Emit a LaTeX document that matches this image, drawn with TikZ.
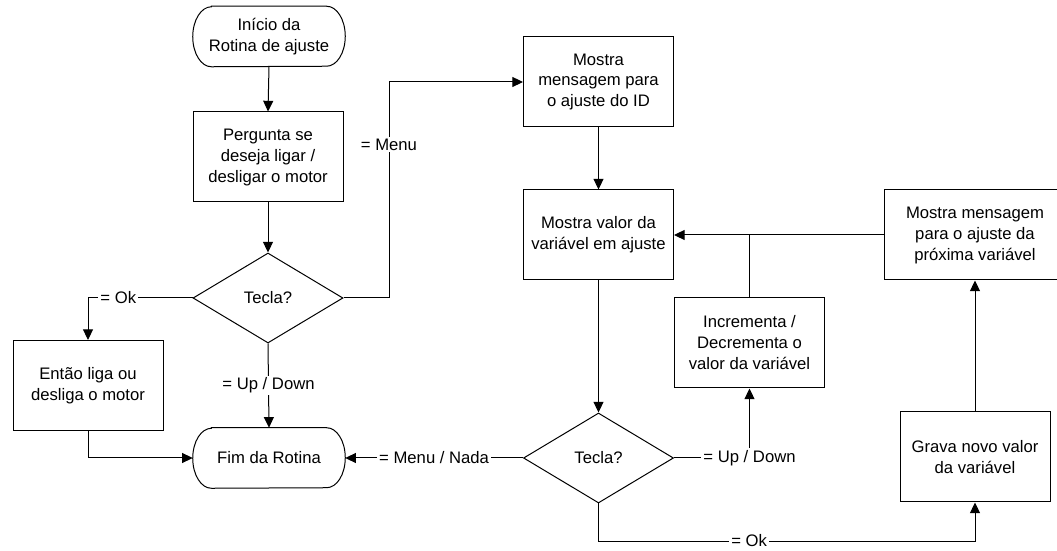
\documentclass[tikz,border=0pt]{standalone}
\usepackage{fontspec}
\setmainfont{Liberation Sans}
\usetikzlibrary{arrows.meta,shapes.geometric}

% Terminal outline: straight top and bottom, elliptical ends
\newcommand{\drawterminal}[1]{%
  \draw[line width=0.75pt]
    ([xshift=14pt]#1.north west) -- ([xshift=-14pt]#1.north east)
    arc[start angle=90,end angle=-90,x radius=14pt,y radius=22.5pt]
    -- ([xshift=14pt]#1.south west)
    arc[start angle=270,end angle=90,x radius=14pt,y radius=22.5pt]
    -- cycle;}

\begin{document}
\begin{tikzpicture}[x=0.75pt,y=0.75pt,
  every node/.style={font=\fontsize{12.5}{15.75}\selectfont, align=center},
  box/.style={draw, line width=0.75pt, minimum width=112.5pt, minimum height=67.5pt, inner sep=0pt},
  term/.style={minimum width=114pt, minimum height=45pt, inner sep=0pt},
  decision/.style={diamond, draw, line width=0.75pt, aspect=1.667,
    minimum width=112.5pt, minimum height=67.5pt, inner sep=0pt},
  flow/.style={line width=0.75pt, -{Triangle[length=8pt,width=7.5pt]}},
  link/.style={line width=0.75pt},
  lbl/.style={fill=white, inner sep=1.5pt},
]
\useasboundingbox (0,0) rectangle (1057,550);
\clip (0,0) rectangle (1057,550);

% Nodes
\node[term] (start) at (269,513.5) {Início da\\Rotina de ajuste};
\drawterminal{start}
\node[box] (perg) at (268,393) {Pergunta se\\deseja ligar /\\desligar o motor};
\node[decision] (d1) at (268,252) {Tecla?};
\node[box] (entao) at (88,164.5) {Então liga ou\\desliga o motor};
\node[term] (fim) at (269,92) {Fim da Rotina};
\drawterminal{fim}

\node[box] (msgid) at (598.5,468) {Mostra\\mensagem para\\o ajuste do ID};
\node[box] (valor) at (598.5,315) {Mostra valor da\\variável em ajuste};
\node[box] (inc) at (749.5,207) {Incrementa /\\Decrementa o\\valor da variável};
\node[decision] (d2) at (598.5,92) {Tecla?};
\node[box] (grava) at (975,93) {Grava novo valor\\da variável};
\node[box, minimum width=136.5pt] (prox) at (975,315) {Mostra mensagem\\para o ajuste da\\próxima variável};

% Connectors
\draw[flow] (start.south) -- (perg.north);
\draw[flow] (perg.south) -- (d1.north);
\draw[flow] (d1.east) -- (389,252) -- node[lbl,pos=0.71]{= Menu} (389,468) -- (msgid.west);
\draw[flow] (d1.west) -- node[lbl,pos=0.71]{= Ok} (88,252) -- (entao.north);
\draw[flow] (d1.south) -- node[lbl,pos=0.5]{= Up / Down} (fim.north);
\draw[flow] (entao.south) |- (fim.west);

\draw[flow] (msgid.south) -- (valor.north);
\draw[flow] (valor.south) -- (d2.north);
\draw[flow] (d2.west) -- node[lbl,pos=0.5]{= Menu / Nada} (fim.east);
\draw[flow] (d2.east) -| node[lbl]{= Up / Down} (inc.south);
\draw[link] (inc.north) -- (inc.north |- valor.east);
\draw[flow] (prox.west) -- (valor.east);
\draw[flow] (grava.north) -- (prox.south);
\draw[flow] (d2.south) -- (598.5,9) -- node[lbl,pos=0.4]{= Ok} (975,9) -- (grava.south);
\end{tikzpicture}
\end{document}
